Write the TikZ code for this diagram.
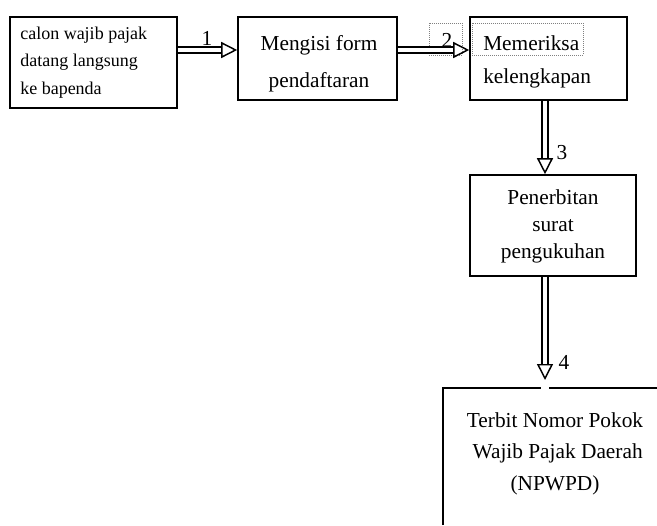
\documentclass[tikz,border=0pt]{standalone}
\usepackage{fontspec}
\setmainfont{Liberation Serif}
\usetikzlibrary{arrows.meta}
\newcommand{\boxw}{1.2pt}
\newcommand{\arrw}{1.1pt}

\begin{document}
\begin{tikzpicture}[x=0.75pt,y=-0.75pt,
    box/.style={draw, line width=\boxw, inner sep=0pt},
    txt/.style={font=\fontsize{16}{27.75}\selectfont, align=center, inner sep=0pt, anchor=base},
    num/.style={font=\fontsize{16}{16}\selectfont, inner sep=0pt},
    dblarrow/.style={double, double distance=3.5pt, line width=\arrw,
        -{Triangle[open, length=12pt, width=12pt, line width=\arrw]}},
    textframe/.style={draw=gray, densely dotted, line width=0.5pt}]
\useasboundingbox (0,0) rectangle (657,525);

% boxes
\node[box, minimum width=125.25pt, minimum height=68.25pt] (b1) at (93.5,62.5) {};
\node[box, minimum width=119.25pt, minimum height=62.25pt] (b2) at (317.5,58.5) {};
\node[box, minimum width=117.75pt, minimum height=62.25pt] (b3) at (548.5,58.5) {};
\node[box, minimum width=124.5pt, minimum height=75.75pt] (b4) at (553,225.5) {};

% open frame at the bottom
\coordinate (b5) at (443,388);
\coordinate (b5gapl) at (541,388);
\coordinate (b5gapr) at (549,388);
\coordinate (b5end) at (657,388);
\coordinate (b5foot) at (443,525);
\draw[line width=\boxw] (b5foot) -- (b5) -- (b5gapl);
\draw[line width=\boxw] (b5gapr) -- (b5end);

% texts (base = last line)
\node[txt, anchor=base west, align=left, font=\fontsize{13.5}{20.6}\selectfont] (t1) at (20,94)
    {calon wajib pajak\\datang langsung\\ke bapenda};
\node[txt] (t2) at (319,87) {Mengisi form\\pendaftaran};
\node[txt, anchor=base west, align=left, font=\fontsize{16}{24.75}\selectfont] (t3) at (483,83)
    {Memeriksa\\kelengkapan};
\node[txt, font=\fontsize{16}{19.9}\selectfont] (t4) at (553,258)
    {Penerbitan\\surat\\pengukuhan};
\node[txt, font=\fontsize{16}{23.6}\selectfont] (t5) at (555,490)
    {Terbit Nomor Pokok\\\hspace*{4pt}Wajib Pajak Daerah\\(NPWPD)};

% dotted text frames
\draw[textframe] (429,23) rectangle (462,55);
\draw[textframe] (472,23) rectangle (583,55);

% connectors
\coordinate (row) at (0,50);
\coordinate (col) at (545,0);
\coordinate (tip4) at (545,380);
\draw[dblarrow] (b1.east |- row) -- (b2.west |- row);
\draw[dblarrow] (b2.east |- row) -- (b3.west |- row);
\draw[dblarrow] (b3.south -| col) -- (b4.north -| col);
\draw[dblarrow] (b4.south -| col) -- (tip4);

\node[num] (n1) at (207,38) {1};
\node[num] (n2) at (447,40) {2};
\node[num] (n3) at (562,153) {3};
\node[num] (n4) at (564,362) {4};
\end{tikzpicture}
\end{document}
